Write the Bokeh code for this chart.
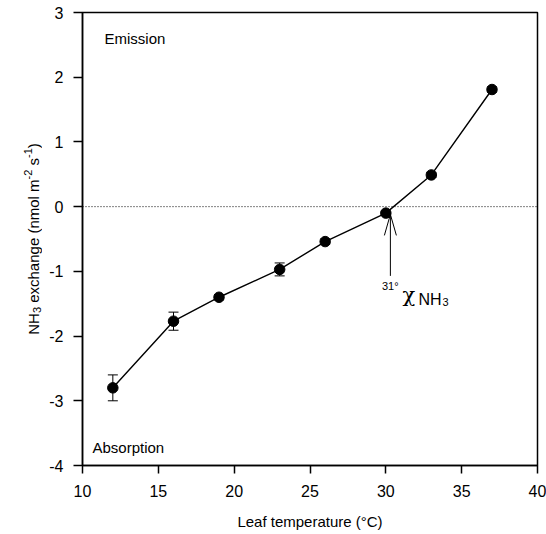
import math
from bokeh.plotting import figure
from bokeh.layouts import row
from bokeh.models import ColumnDataSource, Whisker, TeeHead, Span, Label, FixedTicker, Range1d
from bokeh.core.properties import value
from bokeh.embed import file_html
from bokeh.resources import INLINE

# ---- data ----
temperature = [12, 16, 19, 23, 26, 30, 33, 37]
nh3_exchange = [-2.80, -1.77, -1.40, -0.97, -0.54, -0.10, 0.49, 1.81]
nh3_error = [0.20, 0.14, 0.04, 0.10, 0.04, 0.03, 0.04, 0.04]
x_ticks = [10, 15, 20, 25, 30, 35, 40]
y_ticks = [-4, -3, -2, -1, 0, 1, 2, 3]
compensation_temp = 30.3     # arrow position (x)
arrow_tip = -0.12
arrow_base = -1.07

# ---- geometry (pixels) ----
W, H = 546, 534
TW = 42                       # width of the y-title strip
LEFT, RIGHT, TOP, BOTTOM = 82, 9, 12, 69
X0, X1, Y0, Y1 = 10, 40, -4, 3
FW = W - LEFT - RIGHT
FH = H - TOP - BOTTOM
FONT = "Liberation Sans"


def dx(px):
    return X0 + (px - LEFT) * (X1 - X0) / FW


def dy(py):
    return Y1 - (py - TOP) * (Y1 - Y0) / FH


p = figure(width=W - TW, height=H, x_range=(X0, X1), y_range=(Y0, Y1),
           output_backend="svg", toolbar_location=None,
           min_border_left=LEFT - TW, min_border_right=RIGHT,
           min_border_top=TOP, min_border_bottom=BOTTOM)
p.grid.visible = False
p.outline_line_color = "black"
p.outline_line_width = 1.5
p.background_fill_color = "white"
p.border_fill_color = "white"

for ax in (p.xaxis[0], p.yaxis[0]):
    ax.axis_line_width = 1.5
    ax.major_tick_line_width = 1.5
    ax.minor_tick_line_color = None
    ax.major_tick_in = 0
    ax.major_label_text_font = FONT
    ax.major_label_text_font_size = "16px"
    ax.major_label_text_color = "black"
p.xaxis.major_tick_out = 8
p.yaxis.major_tick_out = 9
p.xaxis.major_label_standoff = 11
p.yaxis.major_label_standoff = 10
p.xaxis.ticker = FixedTicker(ticks=x_ticks)
p.yaxis.ticker = FixedTicker(ticks=y_ticks)
p.yaxis.major_label_overrides = {t: str(t) for t in y_ticks}
p.xaxis.major_label_overrides = {t: str(t) for t in x_ticks}
p.xaxis.axis_label = "Leaf temperature (°C)"
p.xaxis.axis_label_text_font = FONT
p.xaxis.axis_label_text_font_size = "15px"
p.xaxis.axis_label_text_font_style = "normal"
p.xaxis.axis_label_text_color = "black"
p.xaxis.axis_label_standoff = 13

# zero line
p.add_layout(Span(location=0, dimension="width", line_color="black",
                  line_width=1, line_dash="1 2"))

# data
lower = [v - e for v, e in zip(nh3_exchange, nh3_error)]
upper = [v + e for v, e in zip(nh3_exchange, nh3_error)]
src = ColumnDataSource(dict(x=temperature, y=nh3_exchange, lo=lower, hi=upper))
p.add_layout(Whisker(base="x", lower="lo", upper="hi", source=src,
                     line_color="black", line_width=1,
                     lower_head=TeeHead(size=10, line_width=1, line_color="black"),
                     upper_head=TeeHead(size=10, line_width=1, line_color="black")))
p.line("x", "y", source=src, line_color="black", line_width=1.4)
p.scatter("x", "y", source=src, size=10.5, color="black")

# arrow
p.segment(x0=[compensation_temp], y0=[arrow_base], x1=[compensation_temp],
          y1=[arrow_tip], line_color="black", line_width=1)
head_len, head_half = 21, 6
tip_px_y = TOP + (Y1 - arrow_tip) * FH / (Y1 - Y0)
tip_px_x = LEFT + (compensation_temp - X0) * FW / (X1 - X0)
p.segment(x0=[dx(tip_px_x - head_half), dx(tip_px_x + head_half)],
          y0=[dy(tip_px_y + head_len)] * 2,
          x1=[compensation_temp] * 2, y1=[arrow_tip] * 2,
          line_color="black", line_width=1)


def lab(text, px, py, size, font=FONT):
    p.add_layout(Label(x=dx(px), y=dy(py), text=text,
                       text_font=font, text_font_size=f"{size}px",
                       text_color="black", text_align="left",
                       text_baseline="alphabetic"))


lab("Emission", 104, 37.5, 15)
lab("Absorption", 92, 446.7, 15)

# compensation-point label
lab("31°", 381.5, 285.3, 11)
lab("χ", 402, 294.5, 21, font="DejaVu Serif")
lab("NH", 418, 298.5, 16)
lab("3", 442, 301.5, 11)

# ---- rotated y-axis title in its own strip (frame aligned with main plot) ----
t = figure(width=TW, height=H, x_range=Range1d(0, TW),
           y_range=Range1d(TOP + FH, TOP),
           output_backend="svg", toolbar_location=None,
           min_border_left=0, min_border_right=0, min_border_top=TOP,
           min_border_bottom=BOTTOM)
t.axis.visible = False
t.grid.visible = False
t.outline_line_color = None
t.background_fill_color = "white"
t.border_fill_color = "white"

pieces = [("NH", 15, 0), ("3", 11, 3), (" exchange (nmol m", 15, 0),
          ("-2", 11, -5.5), (" s", 15, 0), ("-1", 11, -5.5), (")", 15, 0)]
em = {"N": .722, "H": .722, " ": .278, "e": .556, "x": .5, "c": .5, "h": .556,
      "a": .556, "n": .556, "g": .556, "(": .333, ")": .333, "m": .833,
      "o": .556, "l": .222, "s": .5, "-": .333, "1": .556, "2": .556, "3": .556}
widths = [sum(em[c] for c in s_) * sz for s_, sz, _ in pieces]
total = sum(widths)
center_y = TOP + FH / 2
base_x = 33
pos = center_y + total / 2
for (s_, sz, off), w in zip(pieces, widths):
    lead = (len(s_) - len(s_.lstrip(" "))) * em[" "] * sz
    t.text(x=[base_x + off], y=[pos - lead], text=[s_.lstrip(" ")],
           angle=math.pi / 2,
           text_font=value(FONT), text_font_size=value(f"{sz}px"),
           text_color="black", text_align="left", text_baseline="alphabetic")
    pos -= w

layout = row(t, p)
open("out.html", "w").write(file_html(layout, INLINE))
